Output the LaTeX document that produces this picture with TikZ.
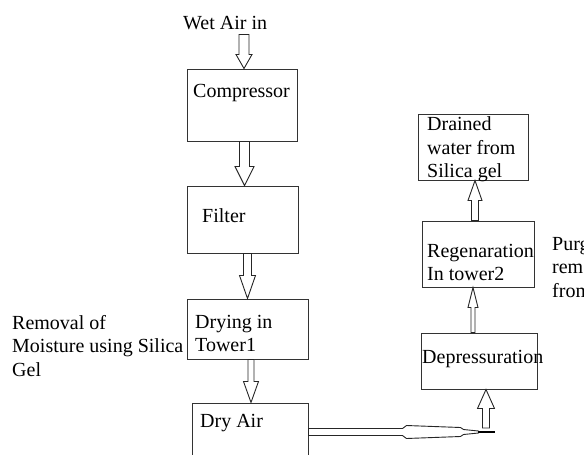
\documentclass[tikz,border=0pt]{standalone}
\usepackage{fontspec}
\setmainfont{Liberation Serif}
\usetikzlibrary{calc}

\begin{document}
\begin{tikzpicture}[
  x=1pt, y=-1pt,
  font=\fontsize{20}{23.5}\selectfont,
  box/.style={draw=black!80, line width=1pt, inner sep=0pt},
  txt/.style={anchor=base west, inner sep=0pt, align=left},
  hollow/.style={draw=black!85, line width=0.9pt, fill=white, line join=miter}
]

% Hollow block arrow, drawn from the tail's height to the tip.
\newcommand{\hollowarrow}[5]{%
  % #1 tail  #2 tip  #3 shaft half-width  #4 head half-width  #5 head length
  \draw[hollow] let \p1=#1, \p2=#2, \n1={ifthenelse(\y1>\y2,1,-1)} in
    ({\x2-#3pt},\y1) -- ({\x2-#3pt},{\y2+\n1*#5pt}) -- ({\x2-#4pt},{\y2+\n1*#5pt})
    -- (\x2,\y2) -- ({\x2+#4pt},{\y2+\n1*#5pt}) -- ({\x2+#3pt},{\y2+\n1*#5pt})
    -- ({\x2+#3pt},\y1) -- cycle;
}

\useasboundingbox (0,0) rectangle (584,455);
\clip (0,0) rectangle (584,455);

% left column boxes
\node[box, minimum width=110pt, minimum height=72pt] (comp) at (242,105) {};
\node[box, minimum width=111pt, minimum height=67pt] (filt) at (242.5,219.5) {};
\node[box, minimum width=121pt, minimum height=60pt] (tower1) at (247.5,329) {};
\node[box, minimum width=116pt, minimum height=67pt] (dryair) at (250,436.5) {};

% right column boxes
\node[box, minimum width=116pt, minimum height=56pt] (depress) at (479,361) {};
\node[box, minimum width=112pt, minimum height=66pt] (regen) at (478,254) {};
\node[box, minimum width=110pt, minimum height=66pt] (drain) at (473,147) {};

% texts (multi-line ones sit on the baseline of their last line)
\node[txt] (wet) at (183,29) {Wet Air in};
\node[txt] (compT) at (193,97) {Compressor};
\node[txt] (filtT) at (202,222) {Filter};
\node[txt] (tower1T) at (195,351.5) {Drying in\\Tower1};
\node[txt] (dryairT) at (200,427) {Dry Air};
\node[txt] (removal) at (12,376) {Removal of\\Moisture using Silica\\Gel};
\node[txt] (depressT) at (422,363) {Depressuration};
\node[txt] (regenT) at (427,280.5) {Regenaration\\In tower2};
\node[txt] (drainT) at (427,177.5) {Drained\\water from\\Silica gel};
\node[txt] (purge) at (552,297) {Purge\\removal\\from};

% vertical flow arrows
\hollowarrow{($(wet.south)+(0,5)$)}{($(comp.north)+(2,0)$)}{5}{8}{14}
\hollowarrow{(comp.south)}{($(filt.north)+(2,0)$)}{5}{9.5}{19}
\hollowarrow{(filt.south)}{(tower1.north)}{4}{8}{23}
\hollowarrow{(tower1.south)}{($(dryair.north)+(1,0)$)}{3}{7.5}{21}

% pipe to the regeneration side
\coordinate (pipe) at (495,432);
\draw[hollow] ($(dryair.east |- pipe)+(0,-3.5)$) -- ++(94,0) -- ++(4,-3)
  -- ++(54,2) -- ++(3,2) -- ++(15,1.5) -- ++(0,2) -- ++(-15,1.5) -- ++(-3,2)
  -- ++(-54,2) -- ++(-4,-3) -- ++(-94,0) -- cycle;
\draw[line width=1.5pt] ($(pipe)+(-17,0)$) -- (pipe);

\hollowarrow{($(pipe)+(0,-4)$)}{($(depress.south)+(7,0)$)}{3.5}{8.5}{19}
\hollowarrow{(depress.north)}{($(regen.south)+(-5,0)$)}{2}{5}{20}
\hollowarrow{(regen.north)}{($(drain.south)+(2,0)$)}{3.5}{7}{20}

\end{tikzpicture}
\end{document}
